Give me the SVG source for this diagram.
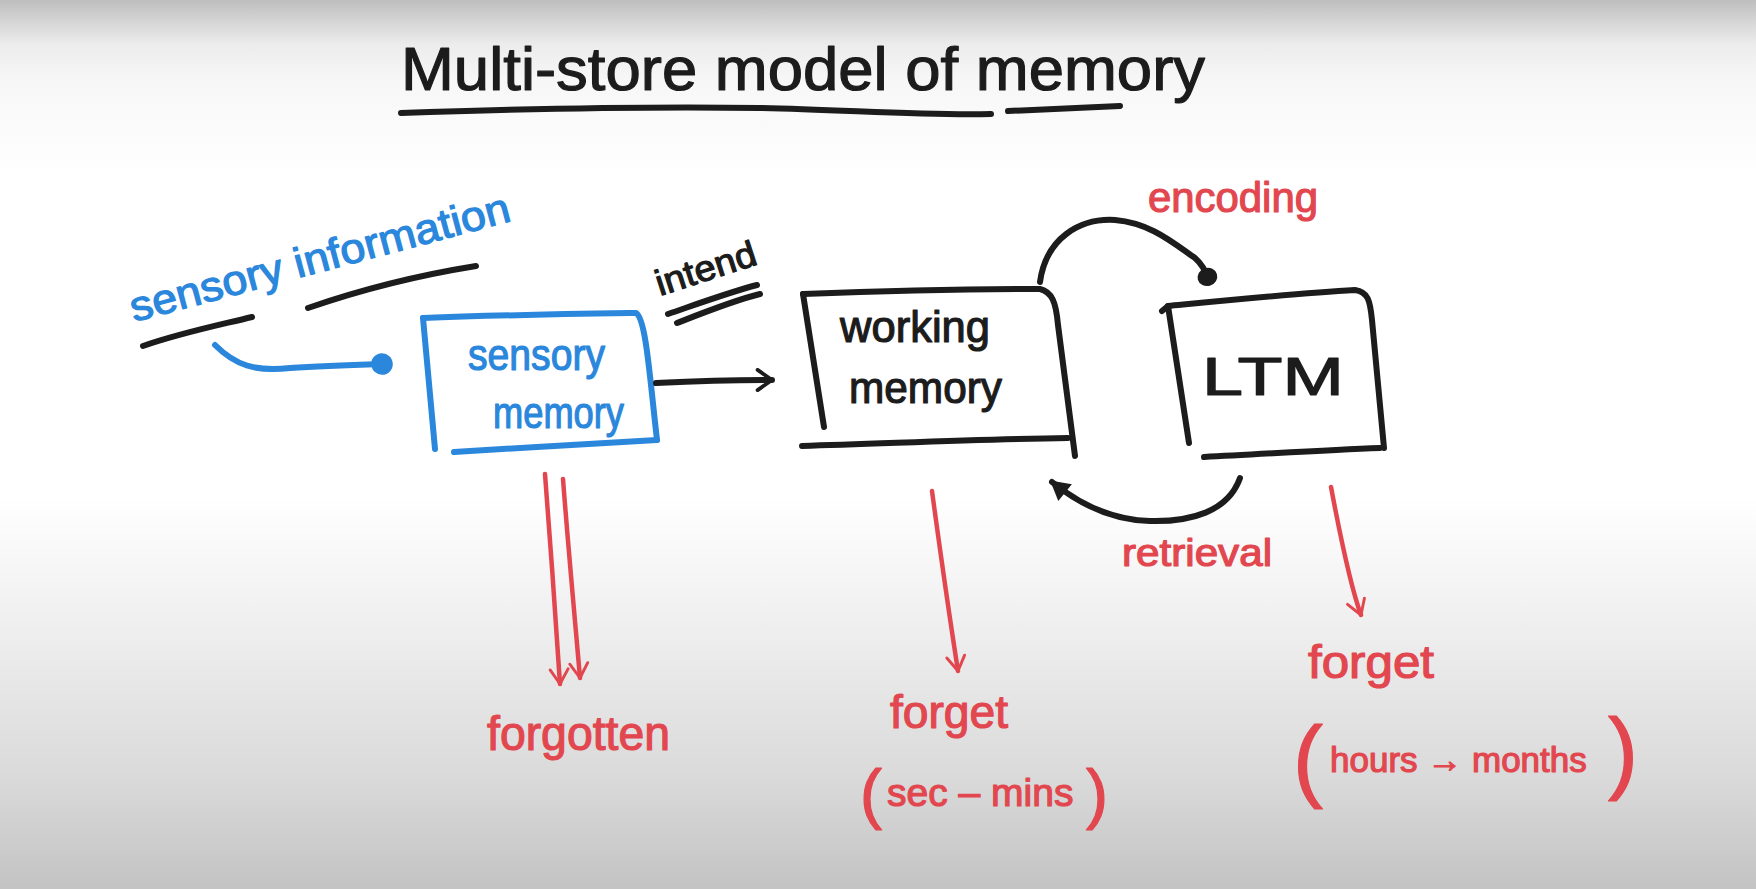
<svg xmlns="http://www.w3.org/2000/svg" width="1756" height="889" viewBox="0 0 1756 889">
  <defs>
    <linearGradient id="bg" x1="0" y1="0" x2="0" y2="1">
      <stop offset="0" stop-color="#bebebe"/>
      <stop offset="0.025" stop-color="#d6d6d6"/>
      <stop offset="0.05" stop-color="#ececec"/>
      <stop offset="0.09" stop-color="#f7f7f7"/>
      <stop offset="0.2" stop-color="#ffffff"/>
      <stop offset="0.56" stop-color="#ffffff"/>
      <stop offset="0.72" stop-color="#ededed"/>
      <stop offset="0.88" stop-color="#d9d9d9"/>
      <stop offset="1" stop-color="#c3c3c3"/>
    </linearGradient>
    <marker id="ahBlue" viewBox="0 0 10 10" refX="5" refY="5" markerWidth="4" markerHeight="4" orient="auto" markerUnits="strokeWidth">
      <circle cx="5" cy="5" r="4.5" fill="#2a87dc"/>
    </marker>
    <marker id="ahBlackV" viewBox="0 0 10 10" refX="8" refY="5" markerWidth="4" markerHeight="4" orient="auto" markerUnits="strokeWidth">
      <path d="M2,0.8 L8,5 L2,9.2" fill="none" stroke="#1c1c1c" stroke-width="1.6" stroke-linecap="round" stroke-linejoin="round"/>
    </marker>
    <marker id="ahBlackTri" viewBox="0 0 10 10" refX="8" refY="5" markerWidth="4" markerHeight="4" orient="auto" markerUnits="strokeWidth">
      <path d="M1,0.5 L9,5 L1,9.5 Z" fill="#1c1c1c"/>
    </marker>
    <marker id="ahBlackBlob" viewBox="0 0 10 10" refX="6" refY="5" markerWidth="3.6" markerHeight="3.6" orient="auto" markerUnits="strokeWidth">
      <ellipse cx="5" cy="5" rx="4.2" ry="4.6" fill="#1c1c1c"/>
    </marker>
    <marker id="ahRed" viewBox="0 0 10 10" refX="8.5" refY="5" markerWidth="5" markerHeight="5" orient="auto" markerUnits="strokeWidth">
      <path d="M2,1 L8.5,5 L2,9" fill="none" stroke="#e2474f" stroke-width="1.3" stroke-linecap="round" stroke-linejoin="round"/>
    </marker>
  </defs>
  <style>
    .ink { fill: none; stroke-linecap: round; stroke-linejoin: round; }
    .k { stroke: #1c1c1c; stroke-width: 6; }
    .b { stroke: #2a87dc; stroke-width: 6; }
    .r { stroke: #e2474f; stroke-width: 4.5; }
    .t { font-family: "Liberation Sans", "DejaVu Sans", sans-serif; stroke-linejoin: round; }
    .tk { fill: #1c1c1c; stroke: #1c1c1c; stroke-width: 1.2; }
    .tb { fill: #2a87dc; stroke: #2a87dc; stroke-width: 1.2; }
    .tr { fill: #e2474f; stroke: #e2474f; stroke-width: 1.2; }
  </style>

  <rect x="0" y="0" width="1756" height="889" fill="url(#bg)"/>

  <g id="title">
    <text class="t tk" x="401" y="90" font-size="62" textLength="804" lengthAdjust="spacingAndGlyphs">Multi-store model of memory</text>
    <path class="ink k" d="M401,113 C520,109 640,106 760,108 C850,110 930,116 991,114"/>
    <path class="ink k" d="M1008,111 L1120,106"/>
  </g>

  <g id="sensory-information">
    <text class="t tb" x="134" y="322" font-size="42" textLength="392" lengthAdjust="spacingAndGlyphs" transform="rotate(-15 134 322)">sensory information</text>
    <path class="ink k" d="M143,346 C180,333 215,326 252,317"/>
    <path class="ink k" d="M308,308 C360,290 420,275 476,266"/>
  </g>

  <g id="sensory-memory">
    <path class="ink b" d="M423,318 C500,315 570,314 636,313 C646,318 650,380 657,440"/>
    <path class="ink b" d="M423,318 L435,449"/>
    <path class="ink b" d="M454,452 C520,448 600,443 657,440"/>
    <text class="t tb" x="468" y="370" font-size="44" textLength="137" lengthAdjust="spacingAndGlyphs">sensory</text>
    <text class="t tb" x="493" y="428" font-size="44" textLength="131" lengthAdjust="spacingAndGlyphs">memory</text>
  </g>

  <g id="working-memory">
    <path class="ink k" d="M803,294 C880,291 960,289 1040,289 C1052,292 1056,302 1058,325 L1075,456"/>
    <path class="ink k" d="M803,294 L824,427"/>
    <path class="ink k" d="M802,446 C900,443 990,439 1068,438"/>
    <text class="t tk" x="840" y="342" font-size="44" textLength="150" lengthAdjust="spacingAndGlyphs">working</text>
    <text class="t tk" x="849" y="403" font-size="44" textLength="153" lengthAdjust="spacingAndGlyphs">memory</text>
  </g>

  <g id="ltm">
    <path class="ink k" d="M1162,311 L1168,306 C1230,300 1300,293 1355,290 C1368,292 1370,300 1372,320 L1384,448"/>
    <path class="ink k" d="M1168,306 L1189,443"/>
    <path class="ink k" d="M1204,457 C1265,454 1325,450 1380,448"/>
    <text class="t tk" x="1202" y="395" font-size="54" textLength="142" lengthAdjust="spacingAndGlyphs">LTM</text>
  </g>

  <g id="labels">
    <text class="t tk" x="660" y="296" font-size="36" textLength="104" lengthAdjust="spacingAndGlyphs" transform="rotate(-18 660 296)">intend</text>
    <path class="ink k" d="M668,314 C700,303 730,292 757,285"/>
    <path class="ink k" d="M677,323 C705,312 735,300 760,294"/>
    <text class="t tr" x="1148" y="212" font-size="42" textLength="170" lengthAdjust="spacingAndGlyphs">encoding</text>
    <text class="t tr" x="1122" y="566" font-size="38" textLength="150" lengthAdjust="spacingAndGlyphs">retrieval</text>
    <text class="t tr" x="487" y="750" font-size="48" textLength="183" lengthAdjust="spacingAndGlyphs">forgotten</text>
    <text class="t tr" x="890" y="728" font-size="46" textLength="118" lengthAdjust="spacingAndGlyphs">forget</text>
    <text class="t tr" x="860" y="816" font-size="66">(</text>
    <text class="t tr" x="887" y="806" font-size="39">sec – mins</text>
    <text class="t tr" x="1086" y="816" font-size="66">)</text>
    <text class="t tr" x="1308" y="678" font-size="46" textLength="126" lengthAdjust="spacingAndGlyphs">forget</text>
    <text class="t tr" x="1293" y="790" font-size="90">(</text>
    <text class="t tr" x="1330" y="772" font-size="35">hours → months</text>
    <text class="t tr" x="1608" y="782" font-size="90">)</text>
  </g>

  <g id="connectors">
    <path class="ink b" d="M215,345 C235,365 255,372 290,368 C320,366 350,365 382,364" marker-end="url(#ahBlue)"/>
    <path class="ink k" d="M656,383 C700,381 740,380 772,380" marker-end="url(#ahBlackV)"/>
    <path class="ink k" d="M1040,282 C1046,238 1080,218 1115,220 C1150,223 1172,242 1195,258 C1203,265 1206,272 1208,279" marker-end="url(#ahBlackBlob)"/>
    <path class="ink k" d="M1240,478 C1228,512 1190,522 1150,521 C1110,520 1078,503 1052,482" marker-end="url(#ahBlackTri)"/>
    <path class="ink r" d="M545,474 C550,540 556,620 560,684" marker-end="url(#ahRed)"/>
    <path class="ink r" d="M563,479 C568,545 575,620 580,678" marker-end="url(#ahRed)"/>
    <path class="ink r" d="M932,491 C940,550 950,620 958,671" marker-end="url(#ahRed)"/>
    <path class="ink r" d="M1331,487 C1340,535 1350,585 1361,615" marker-end="url(#ahRed)"/>
  </g>
</svg>
